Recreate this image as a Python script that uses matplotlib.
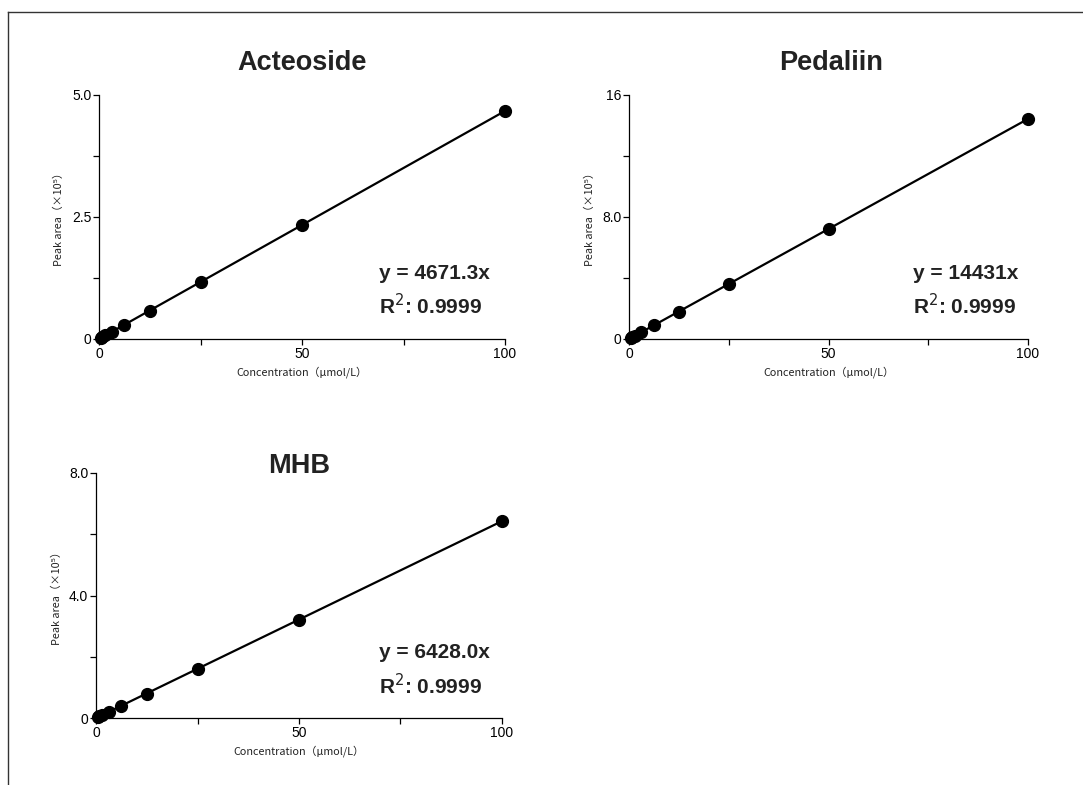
import matplotlib
matplotlib.use("Agg")
import matplotlib.pyplot as plt
from matplotlib.lines import Line2D
from matplotlib.ticker import FixedLocator, FixedFormatter
import numpy as np

plt.rcParams['font.family'] = ['Liberation Sans', 'DejaVu Sans']

# ---- data ----
concentration = [0.39, 0.78, 1.56, 3.125, 6.25, 12.5, 25, 50, 100]  # umol/L
acteoside = [0.018, 0.036, 0.073, 0.146, 0.292, 0.584, 1.17, 2.34, 4.67]   # x10^5
pedaliin = [0.056, 0.113, 0.225, 0.45, 0.90, 1.80, 3.61, 7.22, 14.43]      # x10^5
mhb = [0.025, 0.050, 0.100, 0.200, 0.40, 0.80, 1.61, 3.21, 6.43]           # x10^5

titles = ["Acteoside", "Pedaliin", "MHB"]
equations = ["y = 4671.3x", "y = 14431x", "y = 6428.0x"]
r2_text = "R$^2$: 0.9999"
y_max = [5.0, 16, 8.0]
y_ticks_major = [[0, 2.5, 5.0], [0, 8.0, 16], [0, 4.0, 8.0]]
y_tick_labels = [["0", "2.5", "5.0"], ["0", "8.0", "16"], ["0", "4.0", "8.0"]]
y_ticks_minor = [[1.25, 3.75], [4, 12], [2, 6]]
x_ticks_major = [0, 50, 100]
x_tick_labels = ["0", "50", "100"]
x_ticks_minor = [25, 75]

W, H = 1083, 785
fig = plt.figure(figsize=(W / 100, H / 100), dpi=100)

# axes boxes in pixels: left, right, top, bottom
boxes = [(99, 505, 95, 339), (629, 1028, 95, 339), (96, 502, 473, 718)]
title_pos = [(302, 63), (831, 63), (299, 466)]
eq_pos = [(0.69, 0.268, 0.136), (0.712, 0.268, 0.136), (0.698, 0.266, 0.132)]
series = [acteoside, pedaliin, mhb]

cjk = ['Noto Sans CJK SC', 'DejaVu Sans']

for i, (l, r, t, b) in enumerate(boxes):
    ax = fig.add_axes([l / W, 1 - b / H, (r - l) / W, (b - t) / H])
    x = np.array(concentration)
    y = np.array(series[i])
    slope = np.sum(x * y) / np.sum(x * x)
    xl = np.array([0, 100])
    ax.plot(xl, slope * xl, color='black', lw=1.6, zorder=2, clip_on=False)
    ax.plot(x, y, 'o', color='black', ms=8.5, zorder=3, clip_on=False)
    ax.set_xlim(0, 100)
    ax.set_ylim(0, y_max[i])
    for s in ['top', 'right']:
        ax.spines[s].set_visible(False)
    for s in ['left', 'bottom']:
        ax.spines[s].set_linewidth(0.9)
    ax.xaxis.set_major_locator(FixedLocator(x_ticks_major))
    ax.xaxis.set_major_formatter(FixedFormatter(x_tick_labels))
    ax.xaxis.set_minor_locator(FixedLocator(x_ticks_minor))
    ax.yaxis.set_major_locator(FixedLocator(y_ticks_major[i]))
    ax.yaxis.set_major_formatter(FixedFormatter(y_tick_labels[i]))
    ax.yaxis.set_minor_locator(FixedLocator(y_ticks_minor[i]))
    ax.tick_params(which='both', direction='out', length=4, width=0.9,
                   labelsize=10, pad=1.5, colors='black')
    ax.tick_params(axis='x', which='major', pad=2)
    ax.set_xlabel("Concentration（µmol/L）", family=cjk, fontsize=7.8,
                  labelpad=3.5, color='#222222')
    ax.set_ylabel("Peak area（×10⁵）", family=cjk, fontsize=7.8,
                  labelpad=5.5, color='#222222')
    tx, ty = title_pos[i]
    fig.text(tx / W, 1 - ty / H, titles[i], ha='center', va='center',
             fontsize=19.5, fontweight='bold', color='#222222')
    ex, ey, ry = eq_pos[i]
    ax.text(ex, ey, equations[i], transform=ax.transAxes, ha='left',
            va='center', fontsize=15, fontweight='bold', color='#222222')
    ax.text(ex, ry, r2_text, transform=ax.transAxes, ha='left',
            va='center', fontsize=15, fontweight='bold', color='#222222')

# frame lines (top and left)
fig.add_artist(Line2D([8 / W, 1], [1 - 12 / H, 1 - 12 / H], color='#333333',
                      lw=1.0, transform=fig.transFigure))
fig.add_artist(Line2D([8 / W, 8 / W], [1 - 12 / H, 0], color='#333333',
                      lw=1.0, transform=fig.transFigure))

fig.savefig("out.png", dpi=100)
